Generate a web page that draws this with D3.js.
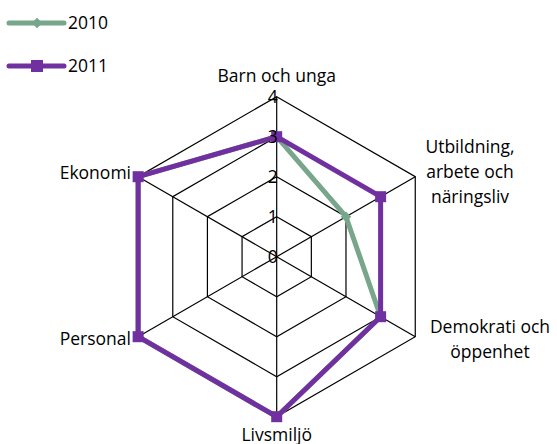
<!DOCTYPE html>
<html>
<head>
<meta charset="utf-8">
<script src="https://cdn.jsdelivr.net/npm/d3@7"></script>
<style>
  html, body { margin: 0; padding: 0; background: #fff; }
  svg { display: block; }
  text { font-family: "Open Sans", "Lato", sans-serif; fill: #000; }
</style>
</head>
<body>
<svg id="chart" width="557" height="444"></svg>
<script>
// Radar chart: six focus areas scored 0–4, two years
const categories = [
  ["Barn och unga"],
  ["Utbildning,", "arbete och", "näringsliv"],
  ["Demokrati och", "öppenhet"],
  ["Livsmiljö"],
  ["Personal"],
  ["Ekonomi"]
];
const seriesNames = ["2010", "2011"];
const values2010 = [3, 2, 3, 4, 4, 4];
const values2011 = [3, 3, 3, 4, 4, 4];
const tickLabels = [0, 1, 2, 3, 4];

const colors = { "2010": "#77a68b", "2011": "#7030a0" };
const fontSize = 17.5;

const svg = d3.select("#chart");
const cx = 276.7, cy = 256.7, R = 160;

const r = d3.scaleLinear().domain([0, 4]).range([0, R]);
const angle = d3.scaleLinear().domain([0, categories.length]).range([0, 2 * Math.PI]);
const pt = (i, v) => [cx + r(v) * Math.sin(angle(i)), cy - r(v) * Math.cos(angle(i))];

// Grid rings
const grid = svg.append("g");
tickLabels.slice(1).forEach(t => {
  grid.append("path")
    .attr("d", d3.line()(categories.map((c, i) => pt(i, t))) + "Z")
    .attr("fill", "none").attr("stroke", "#000").attr("stroke-width", 1.2);
});
// Spokes
categories.forEach((c, i) => {
  const [x, y] = pt(i, 4);
  grid.append("line").attr("x1", cx).attr("y1", cy).attr("x2", x).attr("y2", y)
    .attr("stroke", "#000").attr("stroke-width", 1.2);
});

// Series lines
const seriesData = [["2010", values2010], ["2011", values2011]];
seriesData.forEach(([name, vals]) => {
  const pts = vals.map((v, i) => pt(i, v));
  svg.append("path")
    .attr("d", d3.line()(pts) + "Z")
    .attr("fill", "none").attr("stroke", colors[name])
    .attr("stroke-width", 5).attr("stroke-linejoin", "round");
});
// Markers
seriesData.forEach(([name, vals]) => {
  vals.forEach((v, i) => {
    const [x, y] = pt(i, v);
    if (name === "2010") {
      svg.append("path").attr("d", d3.symbol(d3.symbolDiamond2, 70)())
        .attr("transform", `translate(${x},${y})`).attr("fill", colors[name]);
    } else {
      svg.append("rect").attr("x", x - 5.5).attr("y", y - 5.5)
        .attr("width", 11).attr("height", 11).attr("fill", colors[name]);
    }
  });
});

// Tick labels along the top spoke
tickLabels.forEach(t => {
  svg.append("text").attr("x", cx + 1).attr("y", cy - r(t) + 6)
    .attr("text-anchor", "end").attr("font-size", fontSize).text(t);
});

// Category labels
const labelPos = [
  { x: 276.7, y: 82, anchor: "middle" },
  { x: 470, y: 153, anchor: "middle" },
  { x: 490, y: 333, anchor: "middle" },
  { x: 276.7, y: 441, anchor: "middle" },
  { x: 131, y: 345, anchor: "end" },
  { x: 131, y: 179, anchor: "end" }
];
categories.forEach((lines, i) => {
  const p = labelPos[i];
  const t = svg.append("text").attr("x", p.x).attr("y", p.y)
    .attr("text-anchor", p.anchor).attr("font-size", fontSize);
  lines.forEach((ln, k) => {
    t.append("tspan").attr("x", p.x).attr("dy", k === 0 ? 0 : 25).text(ln);
  });
});

// Legend
const legend = svg.append("g");
seriesNames.forEach((name, k) => {
  const y = 23 + k * 43;
  legend.append("line").attr("x1", 9).attr("x2", 64).attr("y1", y).attr("y2", y)
    .attr("stroke", colors[name]).attr("stroke-width", 5).attr("stroke-linecap", "round");
  if (name === "2010") {
    legend.append("path").attr("d", d3.symbol(d3.symbolDiamond2, 70)())
      .attr("transform", `translate(37,${y})`).attr("fill", colors[name]);
  } else {
    legend.append("rect").attr("x", 31).attr("y", y - 6).attr("width", 12).attr("height", 12)
      .attr("fill", colors[name]);
  }
  legend.append("text").attr("x", 68).attr("y", y + 6).attr("font-size", fontSize).text(name);
});
</script>
</body>
</html>
